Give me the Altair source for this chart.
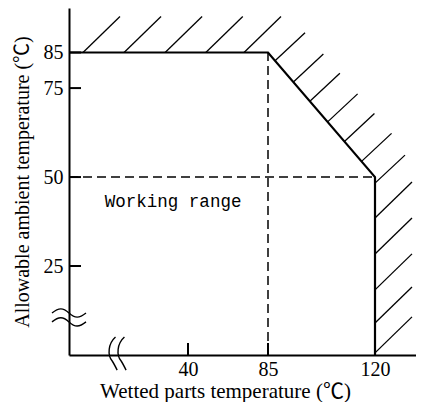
import altair as alt
import pandas as pd

# ---- data ----
# working-range boundary (wetted parts temp, ambient temp)
bound_x = [0, 85, 120, 120]
bound_y = [85, 85, 50, 0]
# dashed guide lines
dash_v_x = [85, 85]
dash_v_y = [0, 85]
dash_h_x = [0, 120]
dash_h_y = [50, 50]
# hatch starting points on the boundary
hatch_long_x = [4.7, 18.5, 32.3, 50, 71.5, 120, 120, 120, 120, 120]
hatch_long_y = [85, 85, 85, 85, 85, 38.5, 28.4, 18.3, 9.0, 0.6]
hatch_short_x = [87.3, 93.3, 98.7, 104.5, 110, 115.6, 120]
hatch_short_y = [82.7, 76.7, 71.3, 65.5, 60, 54.4, 48.3]
# axis ticks
x_ticks = [40, 85, 120]
y_ticks = [25, 50, 75, 85]
# axis break marks
y_break_y = [11.8, 9.3]
x_break_x = [14.8, 17.8]
# annotation
label_text = ["Working range"]
label_x = [35]
label_y = [43]

SERIF = '"Liberation Serif", "Noto Sans CJK JP", serif'

xscale = alt.Scale(domain=[0, 40, 85, 120, 135], range=[0, 119, 199, 306, 347],
                   nice=False, zero=False)
yscale = alt.Scale(domain=[0, 97.5], nice=False, zero=False)

x_axis = alt.Axis(values=x_ticks, title="Wetted parts temperature (℃)", grid=False,
                  ticks=False, tickSize=0, domainWidth=2, domainColor="black",
                  labelFont=SERIF, labelFontSize=20, labelColor="black", labelPadding=4,
                  titleFont=SERIF, titleFontSize=21, titleFontWeight="normal",
                  titleColor="black", titleX=156, titleY=42, titleBaseline="alphabetic",
                  titleAlign="center", labelFlush=False)
y_axis = alt.Axis(values=y_ticks, title="Allowable ambient temperature (℃)", grid=False,
                  ticks=False, tickSize=0, domainWidth=2, domainColor="black",
                  labelFont=SERIF, labelFontSize=20, labelColor="black", labelPadding=6,
                  titleFont=SERIF, titleFontSize=20, titleFontWeight="normal",
                  titleColor="black", titleX=-41, titleY=173.5, titleAngle=-90,
                  titleBaseline="alphabetic", titleAlign="center", labelFlush=False)


def X(field):
    return alt.X(field, type="quantitative", scale=xscale, axis=x_axis)


def Y(field):
    return alt.Y(field, type="quantitative", scale=yscale, axis=y_axis)


df_bound = pd.DataFrame({"x": bound_x, "y": bound_y, "o": range(len(bound_x))})
df_dv = pd.DataFrame({"x": dash_v_x, "y": dash_v_y})
df_dh = pd.DataFrame({"x": dash_h_x, "y": dash_h_y})
df_hl = pd.DataFrame({"x": hatch_long_x, "y": hatch_long_y})
df_hs = pd.DataFrame({"x": hatch_short_x, "y": hatch_short_y})
df_xt = pd.DataFrame({"x": x_ticks, "y": [0] * len(x_ticks)})
df_yt = pd.DataFrame({"x": [0] * len(y_ticks), "y": y_ticks})
df_yb = pd.DataFrame({"x": [0] * len(y_break_y), "y": y_break_y})
df_xb = pd.DataFrame({"x": x_break_x, "y": [0.4] * len(x_break_x)})
df_lab = pd.DataFrame({"x": label_x, "y": label_y, "t": label_text})

boundary = alt.Chart(df_bound).mark_line(color="black", strokeWidth=2.2).encode(
    x=X("x"), y=Y("y"), order="o:Q")

dash_v = alt.Chart(df_dv).mark_line(color="black", strokeWidth=1.5, strokeDash=[9, 5]).encode(
    x=X("x"), y=Y("y"))
dash_h = alt.Chart(df_dh).mark_line(color="black", strokeWidth=1.5, strokeDash=[9, 5]).encode(
    x=X("x"), y=Y("y"))

hatch_long = alt.Chart(df_hl).mark_rule(color="black", strokeWidth=1.3,
                                         x2Offset=37, y2Offset=-36).encode(
    x=X("x"), y=Y("y"), x2="x", y2="y")
hatch_short = alt.Chart(df_hs).mark_rule(color="black", strokeWidth=1.3,
                                          x2Offset=30, y2Offset=-28).encode(
    x=X("x"), y=Y("y"), x2="x", y2="y")

xt = alt.Chart(df_xt).mark_rule(color="black", strokeWidth=2, y2Offset=-12).encode(
    x=X("x"), y=Y("y"), y2="y")
yt = alt.Chart(df_yt).mark_rule(color="black", strokeWidth=2, x2Offset=12).encode(
    x=X("x"), y=Y("y"), x2="x")

hwave = "M -1 0 C -0.6 -0.32 -0.35 -0.32 0 0 C 0.35 0.32 0.6 0.32 1 0"
vwave = "M 0.15 -1 C -0.3 -0.6 -0.35 0.1 -0.05 0.45 C 0.05 0.6 0.15 0.8 0.25 1"

yb = alt.Chart(df_yb).mark_point(shape=hwave, size=1156, filled=False, color="black",
                                 strokeWidth=1.4, opacity=1).encode(x=X("x"), y=Y("y"))
xb = alt.Chart(df_xb).mark_point(shape=vwave, size=1089, filled=False, color="black",
                                 strokeWidth=1.4, opacity=1).encode(x=X("x"), y=Y("y"))

lab = alt.Chart(df_lab).mark_text(font="Liberation Mono", fontSize=17.5, color="black",
                                  align="center", baseline="middle").encode(
    x=X("x"), y=Y("y"), text="t:N")

chart = alt.layer(boundary, hatch_long, hatch_short, dash_v, dash_h, xt, yt, yb, xb, lab).properties(
    width=347, height=347,
    autosize=alt.AutoSizeParams(type="none"),
    padding={"left": 61, "top": 0, "right": 0, "bottom": 47},
    background="white",
).configure_view(stroke=None)

chart.save("out.html", embed_options={"renderer": "svg", "actions": False})
